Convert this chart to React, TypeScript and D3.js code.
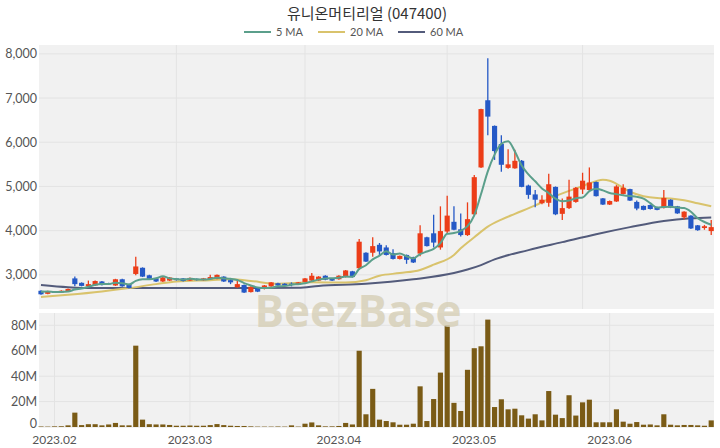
import React from 'react';
import * as d3 from 'd3';

const dates = [
  '2023-01-30','2023-01-31',
  '2023-02-01','2023-02-02','2023-02-03','2023-02-06','2023-02-07','2023-02-08','2023-02-09','2023-02-10',
  '2023-02-13','2023-02-14','2023-02-15','2023-02-16','2023-02-17','2023-02-20','2023-02-21','2023-02-22',
  '2023-02-23','2023-02-24','2023-02-27','2023-02-28',
  '2023-03-02','2023-03-03','2023-03-06','2023-03-07','2023-03-08','2023-03-09','2023-03-10','2023-03-13',
  '2023-03-14','2023-03-15','2023-03-16','2023-03-17','2023-03-20','2023-03-21','2023-03-22','2023-03-23',
  '2023-03-24','2023-03-27','2023-03-28','2023-03-29','2023-03-30','2023-03-31',
  '2023-04-03','2023-04-04','2023-04-05','2023-04-06','2023-04-07','2023-04-10','2023-04-11','2023-04-12',
  '2023-04-13','2023-04-14','2023-04-17','2023-04-18','2023-04-19','2023-04-20','2023-04-21','2023-04-24',
  '2023-04-25','2023-04-26','2023-04-27','2023-04-28',
  '2023-05-02','2023-05-03','2023-05-04','2023-05-08','2023-05-09','2023-05-10','2023-05-11','2023-05-12',
  '2023-05-15','2023-05-16','2023-05-17','2023-05-18','2023-05-19','2023-05-22','2023-05-23','2023-05-24',
  '2023-05-25','2023-05-26','2023-05-30','2023-05-31',
  '2023-06-01','2023-06-02','2023-06-05','2023-06-07','2023-06-08','2023-06-09','2023-06-12','2023-06-13',
  '2023-06-14','2023-06-15','2023-06-16','2023-06-19','2023-06-20','2023-06-21','2023-06-22','2023-06-23',
];

const opens = [
  2640,2570,2620,2600,2620,2920,2820,2740,2760,2850,
  2810,2760,2900,2790,3020,3160,2990,2920,2850,2870,
  2920,2920,2870,2910,2880,2900,2910,2960,2880,2720,
  2770,2610,2710,2680,2740,2810,2800,2800,2780,2840,
  2870,2870,2980,2920,2900,2950,3080,3150,3500,3500,
  3680,3620,3490,3360,3450,3400,3480,3850,3940,3620,
  3980,4200,4030,3900,4370,5430,6950,6370,5960,5420,
  5410,5580,5020,4820,4620,4630,4990,4380,4510,4650,
  4930,4920,5100,4730,4590,4660,4830,4940,4650,4560,
  4580,4530,4520,4700,4550,4300,4340,4120,4060,3990,
];

const closes = [
  2560,2630,2600,2640,2680,2790,2750,2790,2860,2770,
  2790,2900,2740,2700,3190,2960,2910,2850,2940,2940,
  2880,2860,2930,2880,2920,2950,3000,2850,2830,2790,
  2600,2730,2620,2760,2830,2760,2760,2770,2830,2920,
  2980,2960,2890,2870,2980,3100,2950,3750,3300,3650,
  3530,3450,3360,3430,3340,3280,3940,3650,3730,3990,
  4340,4020,3900,4260,5210,6750,6580,5800,5490,5500,
  5580,4990,4810,4700,4700,5050,4370,4510,4770,4970,
  5130,5090,4780,4590,4670,5000,4970,4680,4500,4470,
  4490,4470,4740,4520,4390,4430,4050,4010,4100,4080,
];

const highs = [
  2650,2640,2630,2650,2690,2960,2830,2870,2870,2860,
  2820,2910,2910,2800,3410,3170,3000,2930,2950,2950,
  2930,2930,2940,2920,2930,3000,3010,2970,2900,2870,
  2780,2740,2720,2770,2840,2820,2810,2830,2840,2930,
  3040,2970,2990,2930,2990,3110,3090,3810,3510,3850,
  3720,3670,3580,3440,3460,3410,4120,3860,4360,4550,
  4790,4550,4390,4640,5260,6760,7900,6380,6160,5840,
  5830,5600,5040,4920,4800,5290,5000,4730,5150,4990,
  5310,5430,5110,4740,4680,5030,5050,4950,4680,4570,
  4590,4540,4920,4710,4560,4440,4350,4130,4130,4240,
];

const lows = [
  2550,2560,2590,2590,2610,2740,2740,2730,2750,2760,
  2780,2750,2730,2690,2990,2950,2900,2840,2840,2860,
  2870,2850,2860,2870,2870,2890,2900,2840,2790,2710,
  2590,2600,2610,2670,2730,2750,2750,2740,2770,2830,
  2860,2860,2880,2860,2890,2940,2940,3110,3290,3410,
  3450,3440,3350,3350,3250,3270,3420,3640,3620,3570,
  3940,4010,3870,3880,4340,5420,6160,5600,5330,5400,
  5400,4980,4720,4530,4600,4540,4350,4240,4490,4630,
  4830,4900,4770,4580,4580,4650,4820,4670,4460,4460,
  4480,4460,4500,4510,4380,4260,4040,4000,4020,3900,
];

// volume in millions of shares
const volumes = [
  0.4,0.3,0.5,0.6,1.3,11.3,1.5,2.2,2.2,1.3,
  2.0,3.2,1.3,1.3,64,5.8,2.2,2.0,2.0,1.6,
  1.0,1.0,1.2,1.0,1.0,1.5,2.3,1.5,1.0,0.8,
  0.8,0.5,0.3,0.3,0.3,0.4,0.3,1.3,0.3,2.6,
  3.6,1.3,0.5,0.5,0.8,3.2,2.0,60,10,30,
  5.8,4.7,3.7,1.8,1.8,2.6,32,4.7,22,42.8,
  80,19,12.6,45,62,63.5,84.5,15.7,21.8,13.9,
  14.4,9.2,6.6,10,5.2,28.3,9.7,7,25,9,
  19.4,21.5,3.7,3.7,3.7,13.9,4.2,2.6,3.9,1.8,
  2,1.3,10,1.8,1.3,1.6,1.6,1.3,1,5.2,
];

// closes of the 4 sessions before the first shown date (for the 5-day average)
const prevCloses = [2620, 2650, 2640, 2630];

// 20-day and 60-day averages at sample sessions
const ma20Index = [0,4,9,13,17,20,25,28,31,35,40,45,48,50,53,56,58,61,62,64,66,68,70,73,75,78,80,82,83,84,85,87,89,91,93,95,97,99];
const ma20Value = [2500,2548,2623,2700,2790,2849,2880,2900,2860,2800,2830,2826,2880,2980,3040,3110,3230,3450,3600,3850,4090,4250,4380,4570,4720,4900,5010,5120,5150,5130,5060,4880,4780,4740,4730,4690,4620,4550];
const ma60Index = [0,4,8,20,30,38,41,48,55,61,63,65,67,72,77,82,87,92,96,99];
const ma60Value = [2770,2720,2700,2700,2700,2710,2750,2797,2900,3040,3120,3220,3350,3560,3740,3920,4080,4220,4280,4300];

const priceTicks = [3000, 4000, 5000, 6000, 7000, 8000];
const volumeTicks = [0, 20, 40, 60, 80];
const monthTickDates = ['2023-02-01', '2023-03-02', '2023-04-03', '2023-05-02', '2023-06-01'];
const monthTickLabels = ['2023.02', '2023.03', '2023.04', '2023.05', '2023.06'];
const priceGridDates = ['2023-02-27', '2023-03-27', '2023-04-25', '2023-05-25'];

const TITLE = '유니온머티리얼 (047400)';
const legendNames = ['5 MA', '20 MA', '60 MA'];

const RED = '#ec3d18';
const BLUE = '#2559c6';
const MA_COLORS = ['#5b9f8b', '#d9c36c', '#535b7b'];
const VOL_COLOR = '#7a5b16';
const PANEL_BG = '#f1f1f1';
const GRID = '#e3e3e3';

export default function App() {
  const W = 720, H = 448;
  const left = 39, right = 714;
  const mainTop = 45, mainBottom = 309;
  const volTop = 313, volBottom = 427;

  const x = d3.scaleBand<string>().domain(dates).range([37.6, 714.6]).padding(0);
  const cx = (d: string) => (x(d) as number) + x.bandwidth() / 2;
  const y = d3.scaleLinear().domain([2250, 8200]).range([mainBottom - 1, mainTop]);
  const yv = d3.scaleLinear().domain([0, 89.7]).range([volBottom, volTop]);
  const bodyW = x.bandwidth() * 0.76;

  const allCloses = [...prevCloses, ...closes];
  const ma5 = closes.map((_, i) => d3.mean(allCloses.slice(i, i + 5)) as number);

  const line = d3.line<[number, number]>().x((p) => p[0]).y((p) => p[1]).curve(d3.curveMonotoneX);
  const ma5Path = line(ma5.map((v, i) => [cx(dates[i]), y(v)]));
  const ma20Path = line(ma20Index.map((k, j) => [cx(dates[k]), y(ma20Value[j])]));
  const ma60Path = line(ma60Index.map((k, j) => [cx(dates[k]), y(ma60Value[j])]));

  const font = "'Lato', 'Noto Sans', sans-serif";
  const legendX = [244, 318, 398];

  return (
    <svg width={W} height={H} style={{ position: 'absolute', left: 0, top: 0 }} fontFamily={font}>
      <rect x={0} y={0} width={W} height={H} fill="#ffffff" />
      <text x={367} y={19} textAnchor="middle" fontSize={15} fill="#333" fontFamily="'Noto Sans CJK KR', 'Noto Sans', sans-serif">{TITLE}</text>
      {legendNames.map((n, k) => (
        <g key={n}>
          <line x1={legendX[k]} x2={legendX[k] + 27} y1={32} y2={32} stroke={MA_COLORS[k]} strokeWidth={2} />
          <text x={legendX[k] + 32} y={36} fontSize={11} fill="#555">{n}</text>
        </g>
      ))}

      {/* panels */}
      <rect x={left} y={mainTop} width={right - left} height={mainBottom - mainTop} fill={PANEL_BG} />
      <rect x={left} y={volTop} width={right - left} height={volBottom - volTop} fill={PANEL_BG} />

      {priceTicks.map((t) => (
        <line key={'pg' + t} x1={left} x2={right} y1={y(t)} y2={y(t)} stroke={GRID} strokeWidth={1} />
      ))}
      {priceGridDates.map((d) => (
        <line key={'pv' + d} x1={cx(d)} x2={cx(d)} y1={mainTop} y2={mainBottom} stroke={GRID} strokeWidth={1} />
      ))}
      {volumeTicks.map((t) => (
        <line key={'vg' + t} x1={left} x2={right} y1={yv(t)} y2={yv(t)} stroke={GRID} strokeWidth={1} />
      ))}
      {monthTickDates.map((d) => (
        <line key={'vv' + d} x1={cx(d)} x2={cx(d)} y1={volTop} y2={volBottom} stroke={GRID} strokeWidth={1} />
      ))}

      {/* axis labels */}
      {priceTicks.map((t) => (
        <text key={'pl' + t} x={37} y={y(t) + 4.5} textAnchor="end" fontSize={12.5} fill="#555">{d3.format(',')(t)}</text>
      ))}
      {volumeTicks.map((t) => (
        <text key={'vl' + t} x={37} y={yv(t) + (t === 0 ? 1 : 4.5)} textAnchor="end" fontSize={12.5} fill="#555">{t === 0 ? '0' : t + 'M'}</text>
      ))}
      {monthTickDates.map((d, k) => (
        <text key={'ml' + d} x={cx(d)} y={444} textAnchor="middle" fontSize={12} fill="#555">{monthTickLabels[k]}</text>
      ))}

      {/* volume bars */}
      {dates.map((d, i) => (
        <rect key={'v' + d} x={cx(d) - bodyW / 2} y={yv(volumes[i])} width={bodyW} height={yv(0) - yv(volumes[i])} fill={VOL_COLOR} />
      ))}

      {/* moving averages */}
      <path d={ma60Path || ''} fill="none" stroke={MA_COLORS[2]} strokeWidth={2} />
      <path d={ma20Path || ''} fill="none" stroke={MA_COLORS[1]} strokeWidth={2} />

      {/* candles */}
      {dates.map((d, i) => {
        const up = closes[i] >= opens[i];
        const c = up ? RED : BLUE;
        const top = y(Math.max(opens[i], closes[i]));
        const bot = y(Math.min(opens[i], closes[i]));
        return (
          <g key={'c' + d}>
            <line x1={cx(d)} x2={cx(d)} y1={y(highs[i])} y2={y(lows[i])} stroke={c} strokeWidth={1.3} />
            <rect x={cx(d) - bodyW / 2} y={top} width={bodyW} height={Math.max(1.2, bot - top)} fill={c} />
          </g>
        );
      })}
      <path d={ma5Path || ''} fill="none" stroke={MA_COLORS[0]} strokeWidth={2} />

      {/* watermark */}
      <text x={358} y={327} textAnchor="middle" fontSize={44} fontWeight={700} fill="#d6cfb6" opacity={0.8} fontFamily="'Open Sans', 'Noto Sans', sans-serif">BeezBase</text>
    </svg>
  );
}
